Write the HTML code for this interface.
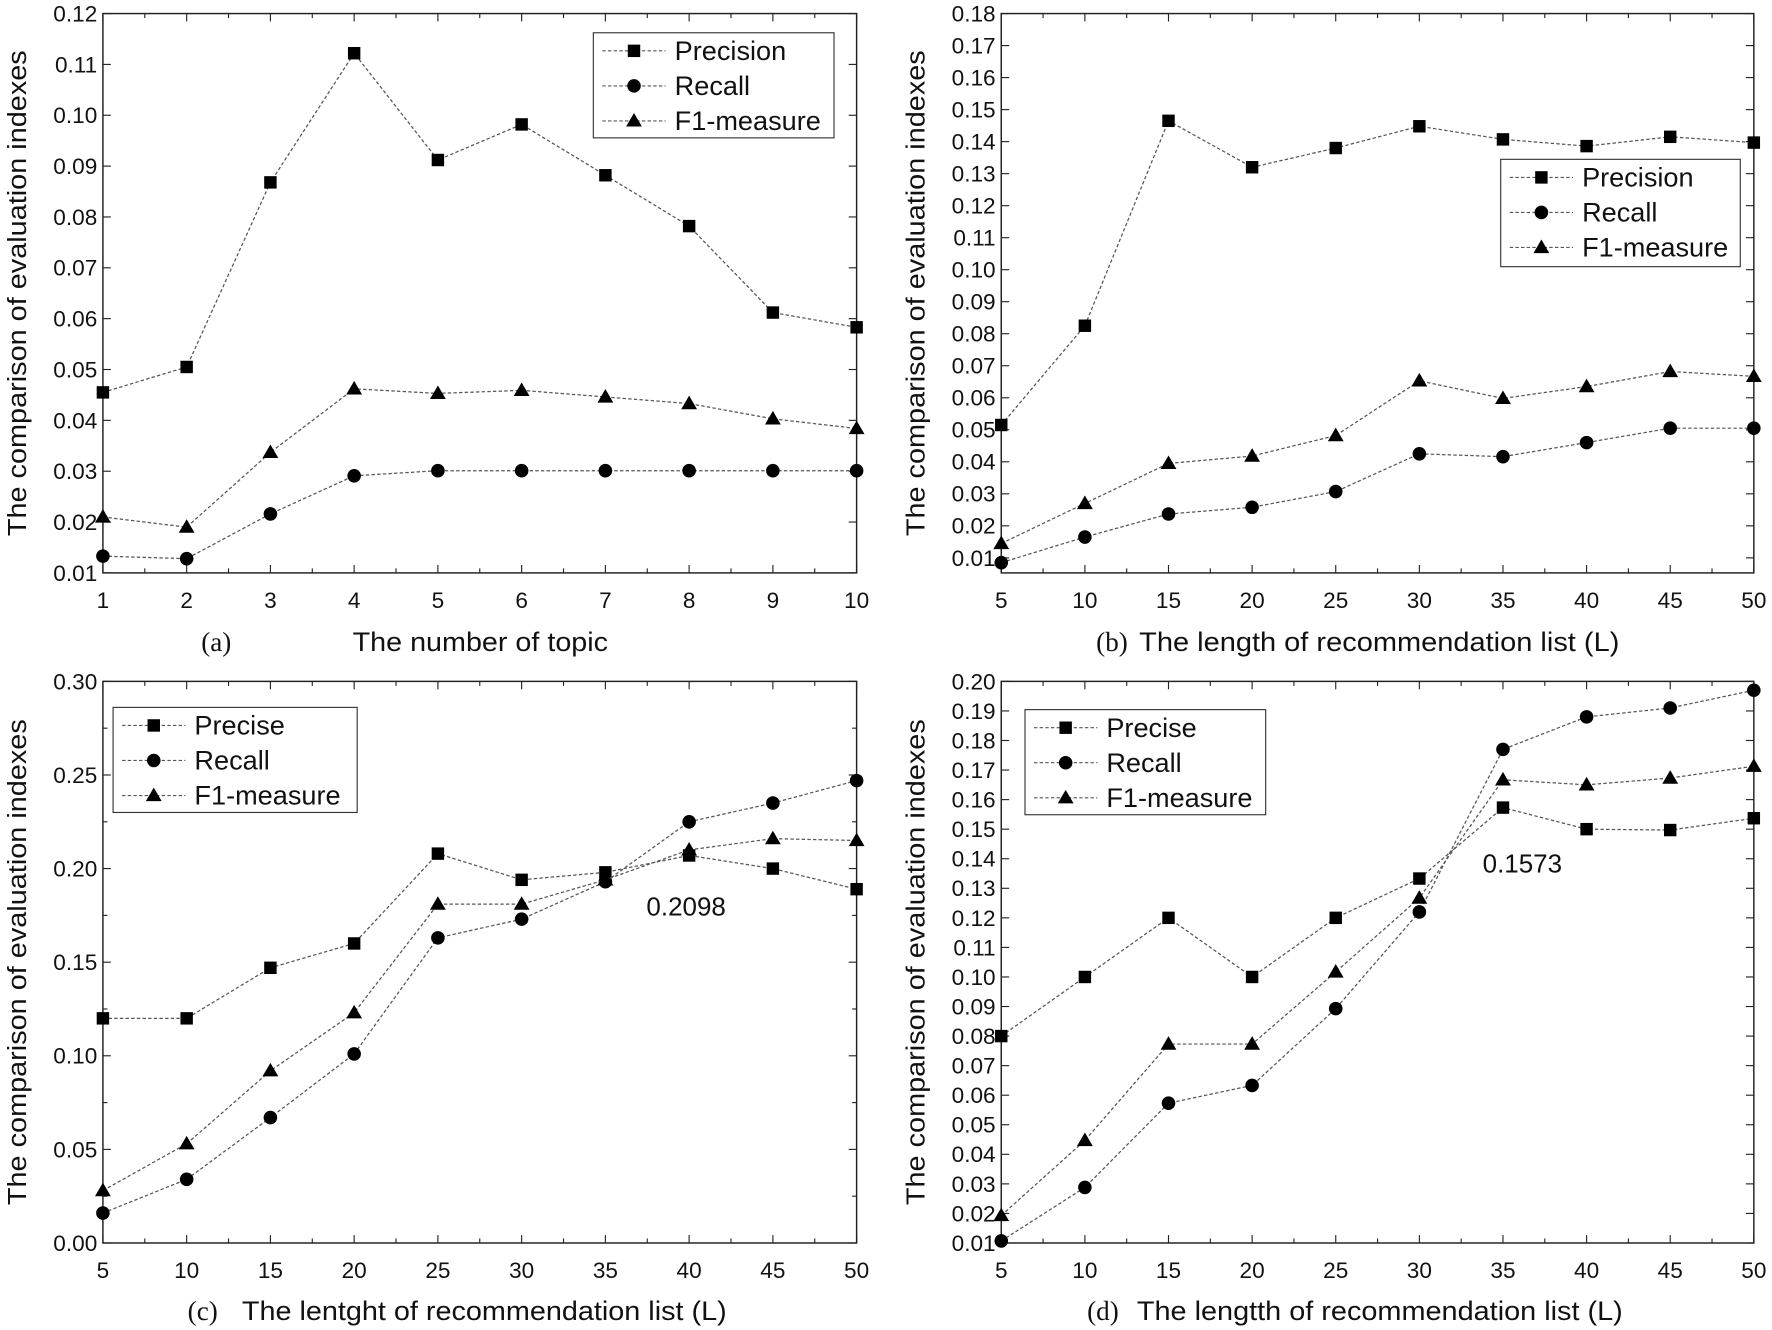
<!DOCTYPE html>
<html><head><meta charset="utf-8"><style>
html,body{margin:0;padding:0;background:#fff}
svg{display:block}
text{font-family:"Liberation Sans",sans-serif;fill:#111}
.ser{font-family:"Liberation Serif",serif}
</style></head><body>
<svg id="fig" width="1772" height="1330" viewBox="0 0 1568 1177" xmlns="http://www.w3.org/2000/svg"></svg>
<script>
const xA = [1,2,3,4,5,6,7,8,9,10];
const xL = [5,10,15,20,25,30,35,40,45,50];
const aPrecision = [.0455,.0505,.0868,.1122,.0912,.0982,.0882,.0782,.0612,.0583];
const aRecall = [.0133,.0128,.0216,.0291,.0301,.0301,.0301,.0301,.0301,.0301];
const aF1 = [.0210,.0190,.0337,.0462,.0453,.0459,.0446,.0433,.0403,.0384];
const bPrecision = [.0515,.0825,.1465,.132,.138,.1448,.1407,.1386,.1415,.1397];
const bRecall = [.0085,.0165,.0237,.0258,.0307,.0425,.0416,.0460,.0505,.0505];
const bF1 = [.0145,.0270,.0395,.0418,.0482,.0653,.0598,.0635,.0682,.0667];
const cPrecise = [.120,.120,.147,.160,.208,.194,.198,.207,.200,.189];
const cRecall = [.016,.034,.067,.101,.163,.173,.193,.225,.235,.247];
const cF1 = [.028,.053,.092,.123,.181,.181,.194,.210,.216,.215];
const dPrecise = [.080,.100,.120,.100,.120,.1333,.1573,.150,.1497,.1537];
const dRecall = [.0107,.0288,.0573,.0633,.0893,.122,.177,.188,.191,.197];
const dF1 = [.0193,.0447,.0773,.0773,.1017,.1267,.1667,.165,.1673,.1713];
const aYTicks = [0.01,0.02,0.03,0.04,0.05,0.06,0.07,0.08,0.09,0.10,0.11,0.12];
const bYTicks = [0.01,0.02,0.03,0.04,0.05,0.06,0.07,0.08,0.09,0.10,0.11,0.12,0.13,0.14,0.15,0.16,0.17,0.18];
const cYTicks = [0,0.05,0.10,0.15,0.20,0.25,0.30];
const dYTicks = [0.01,0.02,0.03,0.04,0.05,0.06,0.07,0.08,0.09,0.10,0.11,0.12,0.13,0.14,0.15,0.16,0.17,0.18,0.19,0.20];

const NS="http://www.w3.org/2000/svg";
const svg=document.getElementById('fig');
function mk(tag,attrs,parent){const e=document.createElementNS(NS,tag);for(const k in attrs)e.setAttribute(k,attrs[k]);(parent||svg).appendChild(e);return e;}

const panels=[
 {id:'a',L:91,R:758,T:12,B:507,xmin:1,xmax:10,ymin:0.01,ymax:0.12,xs:xA,yt:aYTicks,dec:2,minorX:false,minorY:false,
  series:[['precision',aPrecision,'sq'],['recall',aRecall,'ci'],['f1',aF1,'tr']],
  names:['Precision','Recall','F1-measure'],leg:[525,29,213,93],
  cap:[['(a)',178,576,'ser',0],['The number of topic',312,576,'',226]]},
 {id:'b',L:886,R:1552,T:12,B:507,xmin:5,xmax:50,ymin:0.0053,ymax:0.18,xs:xL,yt:bYTicks,dec:2,minorX:true,minorY:false,
  series:[['precision',bPrecision,'sq'],['recall',bRecall,'ci'],['f1',bF1,'tr']],
  names:['Precision','Recall','F1-measure'],leg:[1328,141,212,95],
  cap:[['(b)',970,576,'ser',0],['The length of recommendation list (L)',1008,576,'',425]]},
 {id:'c',L:91,R:758,T:603,B:1100,xmin:5,xmax:50,ymin:0,ymax:0.30,xs:xL,yt:cYTicks,dec:2,minorX:true,minorY:true,
  series:[['precise',cPrecise,'sq'],['recall',cRecall,'ci'],['f1',cF1,'tr']],
  names:['Precise','Recall','F1-measure'],leg:[100,626,216,93],
  cap:[['(c)',166,1168,'ser',0],['The lentght of recommendation list (L)',214,1168,'',429]],
  note:['0.2098',572,810]},
 {id:'d',L:886,R:1552,T:603,B:1100,xmin:5,xmax:50,ymin:0.01,ymax:0.20,xs:xL,yt:dYTicks,dec:2,minorX:true,minorY:false,
  series:[['precise',dPrecise,'sq'],['recall',dRecall,'ci'],['f1',dF1,'tr']],
  names:['Precise','Recall','F1-measure'],leg:[907,628,213,93],
  cap:[['(d)',962,1168,'ser',0],['The lengtth of recommendation list (L)',1006,1168,'',430]],
  note:['0.1573',1312,772]}
];

function marker(g,shape,x,y){
  let m;
  if(shape==='sq') m=mk('rect',{x:x-5.5,y:y-5.5,width:11,height:11,fill:'#000'},g);
  else if(shape==='ci') m=mk('circle',{cx:x,cy:y,r:6,fill:'#000'},g);
  else m=mk('polygon',{points:`${x},${y-7} ${x+7},${y+5} ${x-7},${y+5}`,fill:'#000'},g);
  return m;
}

panels.forEach(p=>{
  const g=mk('g',{});
  
  
  const sx=v=>p.L+(v-p.xmin)/(p.xmax-p.xmin)*(p.R-p.L);
  const sy=v=>p.B-(v-p.ymin)/(p.ymax-p.ymin)*(p.B-p.T);
  const fr=mk('rect',{x:p.L,y:p.T,width:p.R-p.L,height:p.B-p.T,fill:'none',stroke:'#222','stroke-width':1.3},g);
  
  
  p.xs.forEach((v,i)=>{
    const x=sx(v);
    mk('line',{x1:x,y1:p.B,x2:x,y2:p.B-7,stroke:'#222'},g);
    mk('line',{x1:x,y1:p.T,x2:x,y2:p.T+7,stroke:'#222'},g);
    const t=mk('text',{x:x,y:p.B+31,'font-size':20,'text-anchor':'middle'},g);
    t.textContent=v;
    
    
    if(p.minorX && i<p.xs.length-1){
      const xm=sx(v+(p.xs[1]-p.xs[0])/2);
      mk('line',{x1:xm,y1:p.B,x2:xm,y2:p.B-4,stroke:'#222'},g);
      mk('line',{x1:xm,y1:p.T,x2:xm,y2:p.T+4,stroke:'#222'},g);
    }
  });
  if(!p.minorX){
    for(let v=p.xmin+0.5;v<p.xmax;v+=1){const xm=sx(v);
      mk('line',{x1:xm,y1:p.B,x2:xm,y2:p.B-4,stroke:'#222'},g);
      mk('line',{x1:xm,y1:p.T,x2:xm,y2:p.T+4,stroke:'#222'},g);}
  }
  p.yt.forEach((v,i)=>{
    const y=sy(v);
    mk('line',{x1:p.L,y1:y,x2:p.L+7,y2:y,stroke:'#222'},g);
    mk('line',{x1:p.R,y1:y,x2:p.R-7,y2:y,stroke:'#222'},g);
    const t=mk('text',{x:p.L-5,y:y+7,'font-size':20,'text-anchor':'end'},g);
    t.textContent=v.toFixed(p.dec);
    
    
    if(p.minorY && i<p.yt.length-1){const ym=sy(v+(p.yt[1]-p.yt[0])/2);
      mk('line',{x1:p.L,y1:ym,x2:p.L+4,y2:ym,stroke:'#222'},g);
      mk('line',{x1:p.R,y1:ym,x2:p.R-4,y2:ym,stroke:'#222'},g);}
  });
  const yt=mk('text',{x:0,y:0,'font-size':23,'text-anchor':'middle',textLength:430,lengthAdjust:'spacingAndGlyphs',transform:`translate(${p.L-68},${(p.T+p.B)/2}) rotate(-90)`},g);
  yt.textContent='The comparison of evaluation indexes';
  
  
  p.cap.forEach(c=>{
    const at={x:c[1],y:c[2],'font-size':24};
    if(c[4]){at.textLength=c[4];at.lengthAdjust='spacingAndGlyphs';}
    const t=mk('text',at,g);
    if(c[3]) t.setAttribute('class',c[3]);
    t.textContent=c[0];
    
    
  });
  p.series.forEach(s=>{
    const sg=mk('g',{},g);
    
    
    const pts=s[1].map((v,i)=>sx(p.xs[i])+','+sy(v)).join(' ');
    mk('polyline',{points:pts,fill:'none',stroke:'#555','stroke-width':1.1,'stroke-dasharray':'3,2'},sg);
    s[1].forEach((v,i)=>{
      const m=marker(sg,s[2],sx(p.xs[i]),sy(v));
      
      
    });
  });
  const [lx,ly,lw,lh]=p.leg;
  const lg=mk('g',{},g);
  
  
  mk('rect',{x:lx,y:ly,width:lw,height:lh,fill:'#fff',stroke:'#333','stroke-width':1},lg);
  p.series.forEach((s,i)=>{
    const y=ly+16+i*31;
    const e=mk('g',{},lg);
    
    
    mk('line',{x1:lx+8,y1:y,x2:lx+64,y2:y,stroke:'#555','stroke-dasharray':'3,2'},e);
    marker(e,s[2],lx+36,y);
    const t=mk('text',{x:lx+72,y:y+8,'font-size':24},e);
    t.textContent=p.names[i];
  });
  if(p.note){
    const t=mk('text',{x:p.note[1],y:p.note[2],'font-size':23},g);
    t.textContent=p.note[0];
    
    
  }
});
</script>
</body></html>
